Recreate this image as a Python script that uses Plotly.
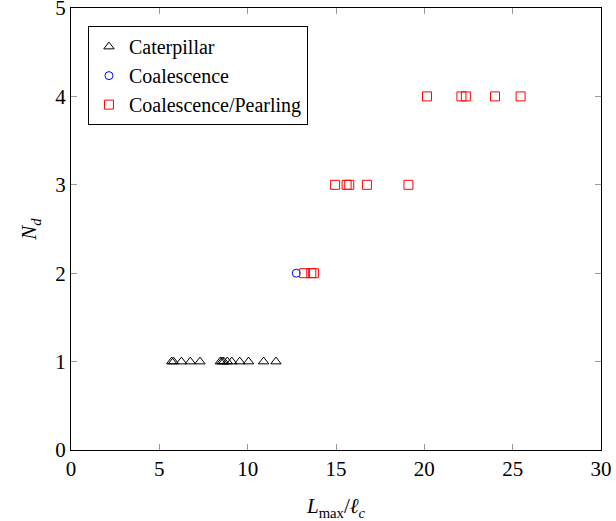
import plotly.graph_objects as go

cat_x = [5.7, 5.8, 6.25, 6.75, 7.3, 8.45, 8.55, 8.65, 8.85, 9.1, 9.55, 10.05, 10.9, 11.6]
cat_y = [1] * len(cat_x)
coal_x = [12.75]
coal_y = [2]
pearl_x = [13.2, 13.6, 13.75, 14.95, 15.6, 15.75, 16.75, 19.1, 20.15, 22.1, 22.35, 24.0, 25.45]
pearl_y = [2, 2, 2, 3, 3, 3, 3, 3, 4, 4, 4, 4, 4]

x_ticks = [0, 5, 10, 15, 20, 25, 30]
y_ticks = [0, 1, 2, 3, 4, 5]

font_family = "Times New Roman, serif"

fig = go.Figure()
fig.add_trace(go.Scatter(x=cat_x, y=cat_y, mode="markers", name="Caterpillar",
                         marker=dict(symbol="triangle-up-open", size=9, color="black", line=dict(width=1))))
fig.add_trace(go.Scatter(x=coal_x, y=coal_y, mode="markers", name="Coalescence",
                         marker=dict(symbol="circle-open", size=8, color="blue", line=dict(width=1))))
fig.add_trace(go.Scatter(x=pearl_x, y=pearl_y, mode="markers", name="Coalescence/Pearling",
                         marker=dict(symbol="square-open", size=9, color="red", line=dict(width=1))))

axis_common = dict(showgrid=False, zeroline=False, showline=True, linecolor="black", linewidth=1,
                   mirror="ticks", ticks="inside", ticklen=6, tickcolor="#999999",
                   ticklabeloverflow="allow", automargin=False,
                   tickfont=dict(family=font_family, size=21, color="black"))

fig.update_layout(
    width=616, height=521,
    margin=dict(l=71, r=15, t=8, b=71),
    plot_bgcolor="white", paper_bgcolor="white",
    font=dict(family=font_family, color="black"),
    xaxis=dict(range=[0, 30], tickvals=x_ticks, **axis_common,
               title=dict(text="<i>L</i><sub>max</sub>/<i>ℓ</i><sub><i>c</i></sub>", font=dict(size=21), standoff=18)),
    yaxis=dict(range=[0, 5], tickvals=y_ticks, **axis_common,
               title=dict(text="<i>N</i><sub><i>d</i></sub>", font=dict(size=21), standoff=12)),
    legend=dict(x=0.032, y=0.959, xanchor="left", yanchor="top", bordercolor="black", borderwidth=1,
                bgcolor="white", font=dict(family=font_family, size=20), itemwidth=30),
    showlegend=True,
)

fig.write_html("out.html")
